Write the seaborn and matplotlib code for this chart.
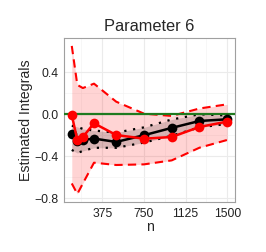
import numpy as np
import pandas as pd
import matplotlib.pyplot as plt
import seaborn as sns

# values
n = [100, 150, 200, 300, 500, 750, 1000, 1250, 1500]
red_mean = [-0.007, -0.248, -0.217, -0.086, -0.198, -0.233, -0.217, -0.121, -0.070]
red_upper = [0.652, 0.280, 0.250, 0.292, 0.120, 0.006, -0.016, 0.055, 0.095]
red_lower = [-0.660, -0.760, -0.660, -0.462, -0.484, -0.478, -0.440, -0.319, -0.245]
black_mean = [-0.191, -0.255, -0.245, -0.232, -0.264, -0.200, -0.130, -0.064, -0.048]
black_upper = [-0.110, -0.120, -0.140, -0.155, -0.175, -0.125, -0.050, 0.000, -0.012]
black_lower = [-0.340, -0.370, -0.350, -0.320, -0.320, -0.270, -0.205, -0.125, -0.092]
truth = 0.0

df = pd.DataFrame({'n': n, 'red': red_mean, 'black': black_mean})

sns.set_style('whitegrid')
plt.rcParams['font.family'] = ['Liberation Sans', 'DejaVu Sans']

fig = plt.figure(figsize=(2.66, 2.52), dpi=100)
ax = fig.add_axes([0.2406, 0.198, 0.6429, 0.651])

# bands
ax.fill_between(n, red_lower, red_upper, color='red', alpha=0.17, linewidth=0, zorder=1)
ax.fill_between(n, black_lower, black_upper, color='black', alpha=0.15, linewidth=0, zorder=2)

# band edges
ax.plot(n, red_upper, color='red', linestyle=(0, (4, 2.5)), linewidth=1.5, zorder=3)
ax.plot(n, red_lower, color='red', linestyle=(0, (4, 2.5)), linewidth=1.5, zorder=3)
ax.plot(n, black_upper, color='black', linestyle=(0, (1, 3)), linewidth=1.6, zorder=3)
ax.plot(n, black_lower, color='black', linestyle=(0, (1, 3)), linewidth=1.6, zorder=3)

# true value
ax.axhline(truth, color='#1f7a1f', linewidth=1.6, zorder=4)

# estimates
sns.lineplot(data=df, x='n', y='black', ax=ax, color='black', marker='o',
             markersize=7, markeredgewidth=0, linewidth=1.8, zorder=5)
sns.lineplot(data=df, x='n', y='red', ax=ax, color='red', marker='o',
             markersize=7, markeredgewidth=0, linewidth=1.8, zorder=6)

ax.set_xlim(30, 1570)
ax.set_ylim(-0.838, 0.727)
ax.set_xticks([375, 750, 1125, 1500])
ax.set_xticks([187.5, 562.5, 937.5, 1312.5], minor=True)
ax.set_yticks([0.4, 0.0, -0.4, -0.8])
ax.set_yticks([0.2, -0.2, -0.6], minor=True)
ax.set_yticklabels(['0.4', '0.0', '\u22120.4', '\u22120.8'])
ax.grid(which='major', color='#ebebeb', linewidth=0.8)
ax.grid(which='minor', color='#f4f4f4', linewidth=0.5)
ax.tick_params(axis='both', which='major', labelsize=8.7, length=2.5, width=0.6,
               color='#7f7f7f', pad=1.5, labelcolor='#222222')
ax.tick_params(which='minor', length=0)
for s in ax.spines.values():
    s.set_color('#a0a0a0')
    s.set_linewidth(0.8)

ax.set_title('Parameter 6', fontsize=11.8, pad=5)
ax.set_xlabel('n', fontsize=10.2, labelpad=0)
ax.set_ylabel('Estimated Integrals', fontsize=10.2, labelpad=1)

plt.savefig('out.png', dpi=100)
